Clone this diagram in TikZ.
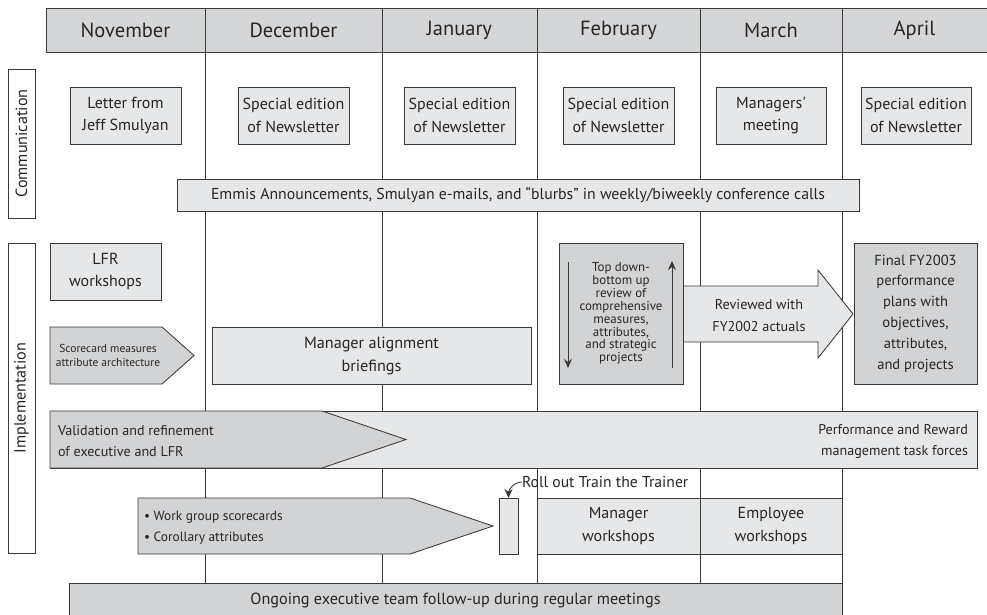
\documentclass[tikz,border=0pt]{standalone}
\usepackage{fontspec}
\setmainfont{PT Sans}
\usetikzlibrary{arrows.meta,calc}
\definecolor{lightfill}{HTML}{E6E7E8}
\definecolor{darkfill}{HTML}{D2D3D5}
\definecolor{headfill}{HTML}{D5D6D8}
\definecolor{linec}{HTML}{3A3A3A}
\tikzset{
  every node/.style={inner sep=0pt, outer sep=0pt, text=black!85},
  ln/.style={draw=linec, line width=0.85pt},
  lbox/.style={ln, fill=lightfill, align=center, font=\fontsize{16}{22.5}\selectfont},
  dbox/.style={ln, fill=darkfill, align=center},
  month/.style={font=\fontsize{20.5}{22}\selectfont},
  sidelabel/.style={ln, fill=white, rotate=90, font=\fontsize{16.2}{18}\selectfont},
  tip/.style={-{Stealth[length=9pt,width=8pt]}, draw=linec, line width=0.9pt},
}
\begin{document}
\begin{tikzpicture}[x=1pt,y=-1pt]
\useasboundingbox (0,0) rectangle (987,614);
% header
\fill[headfill] (46,8) rectangle (1000,52);
\draw[ln] (1000,8) -- (46,8) -- (46,52) -- (1000,52);
\foreach \x in {205,382,537,700,842} \draw[ln] (\x,8) -- (\x,583);
\node[month] (nov) at (125.5,30) {November};
\node[month] (dec) at (293.5,30) {December};
\node[month] (jan) at (459.5,30) {January};
\node[month] (feb) at (618.5,30) {February};
\node[month] (mar) at (771,30) {March};
\node[month] (apr) at (914.5,30) {April};
% side labels
\node[sidelabel, minimum width=149pt, minimum height=27pt] (comm) at (21.5,143.5) {Communication};
\node[sidelabel, minimum width=310pt, minimum height=27pt] (impl) at (21.5,398) {Implementation};
% communication row
\node[lbox, minimum width=111pt, minimum height=57pt] (letter) at (125.5,115.5) {Letter from\\Jeff Smulyan};
\node[lbox, minimum width=111pt, minimum height=57pt] (nldec) at (293.5,115.5) {Special edition\\of Newsletter};
\node[lbox, minimum width=111pt, minimum height=57pt] (nljan) at (459.5,115.5) {Special edition\\of Newsletter};
\node[lbox, minimum width=111pt, minimum height=57pt] (nlfeb) at (618.5,115.5) {Special edition\\of Newsletter};
\node[lbox, minimum width=110pt, minimum height=57pt] (mgrmeet) at (771,115.5) {Managers\textquotesingle\\meeting};
\node[lbox, minimum width=110pt, minimum height=57pt] (nlapr) at (916,115.5) {Special edition\\of Newsletter};
\node[lbox, minimum width=682pt, minimum height=32pt, font=\fontsize{15.8}{18}\selectfont] (emmis) at (518,195) {Emmis Announcements, Smulyan e-mails, and “blurbs” in weekly/biweekly conference calls};
% implementation
\node[lbox, minimum width=111pt, minimum height=57pt] (lfr) at (105.5,271.5) {LFR\\workshops};
\draw[ln, fill=darkfill] (50,327) -- (162,327) -- (194,355.5) -- (162,384) -- (50,384) -- cycle;
\node[align=center, font=\fontsize{11.5}{14.5}\selectfont] (score) at (108,355.5) {Scorecard measures\\attribute architecture};
\node[lbox, minimum width=319pt, minimum height=57pt, font=\fontsize{16.2}{23}\selectfont] (align) at (371.5,355.5) {Manager alignment\\briefings};
% review arrow
\draw[ln, fill=lightfill] (683,286) -- (818,286) -- (818,270) -- (853,314) -- (818,358) -- (818,342) -- (683,342);
\node[align=center, font=\fontsize{14.2}{22}\selectfont] (reviewed) at (759,316) {Reviewed with\\FY2002 actuals};
\node[dbox, minimum width=124pt, minimum height=141pt, font=\fontsize{12.9}{12.9}\selectfont] (topdown) at (621,313.5) {Top down-\\bottom up\\review of\\comprehensive\\measures,\\attributes,\\and strategic\\projects};
\coordinate (tdA) at (568,262);
\coordinate (tdB) at (568,368);
\coordinate (tdC) at (672,368);
\coordinate (tdD) at (672,261);
\draw[tip] (tdA) -- (tdB);
\draw[tip] (tdC) -- (tdD);
\node[dbox, minimum width=123pt, minimum height=141pt, font=\fontsize{14.6}{20.8}\selectfont] (final) at (915.5,313.5) {Final FY2003\\performance\\plans with\\objectives,\\attributes,\\and projects};
% validation band
\node[ln, fill=lightfill, minimum width=927pt, minimum height=57pt] (valband) at (513.5,439.5) {};
\draw[ln, fill=darkfill] (50,411) -- (322,411) -- (406,439.5) -- (322,468) -- (50,468) -- cycle;
\node[anchor=west, align=left, font=\fontsize{14.1}{21}\selectfont] (valid) at (58,441) {Validation and refinement\\of executive and LFR};
\node[anchor=east, align=right, font=\fontsize{14.1}{21}\selectfont] (perf) at (968,441) {Performance and Reward\\management task forces};
% work group arrow
\draw[ln, fill=darkfill] (138,498) -- (410,498) -- (493,526) -- (410,554) -- (138,554) -- cycle;
\node[anchor=west, align=left, font=\fontsize{13.4}{21}\selectfont] (workgrp) at (144,527.5) {\textbullet\ Work group scorecards\\\textbullet\ Corollary attributes};
\node[lbox, minimum width=19pt, minimum height=56pt] (trainbox) at (508.5,526) {};
\node[anchor=west, font=\fontsize{15.7}{17}\selectfont] (rollout) at (522,482) {Roll out Train the Trainer};
\draw[tip] (rollout.west) to[out=180,in=90] (trainbox.north);
\node[lbox, minimum width=163pt, minimum height=56pt] (mgrws) at (618.5,526) {Manager\\workshops};
\node[lbox, minimum width=142pt, minimum height=56pt] (empws) at (771,526) {Employee\\workshops};
% bottom
\node[dbox, minimum width=773pt, minimum height=34pt, font=\fontsize{16.2}{18}\selectfont] (ongoing) at (455.5,600) {Ongoing executive team follow-up during regular meetings};
\end{tikzpicture}
\end{document}
